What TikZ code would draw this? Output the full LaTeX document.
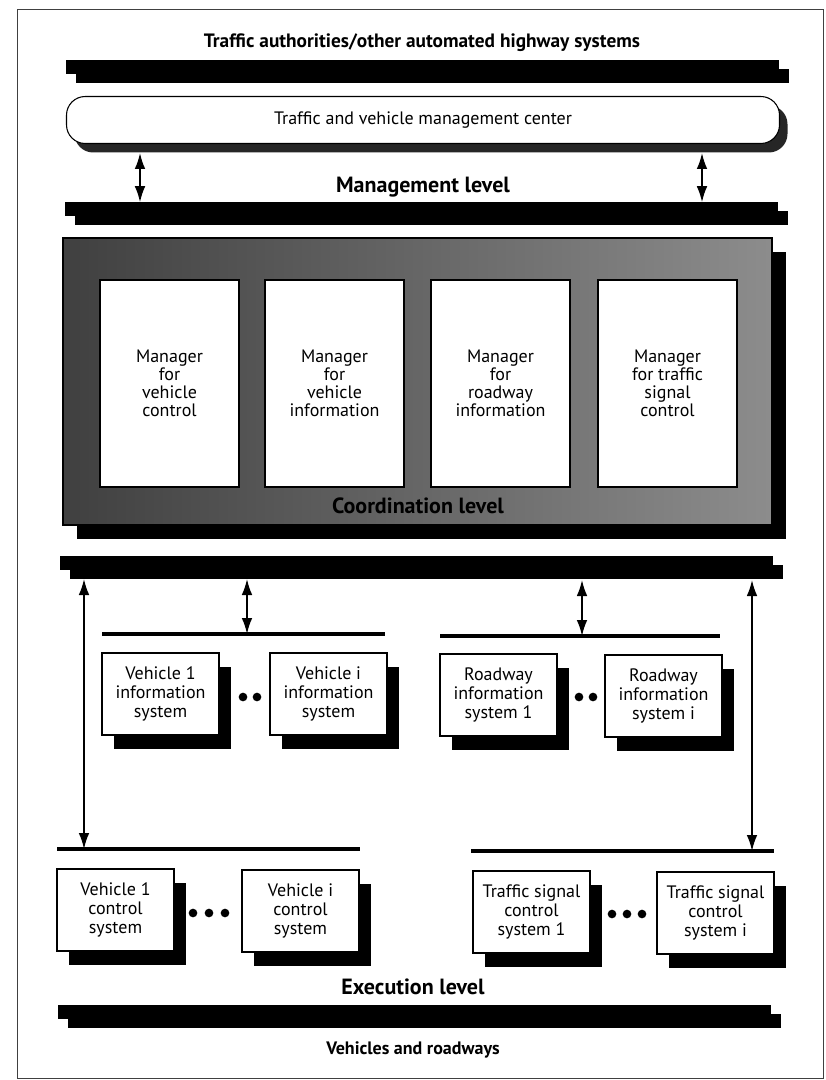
\documentclass[tikz,border=0pt]{standalone}
\usepackage{fontspec}
\setmainfont{PT Sans}
\usetikzlibrary{shadows,arrows.meta,positioning}

\tikzset{
  bar/.style={fill=black, draw=none, inner sep=0pt,
    minimum width=534.75pt, minimum height=10.5pt,
    drop shadow={shadow xshift=7.5pt, shadow yshift=-6.75pt, fill=black, opacity=1}},
  centerbox/.style={draw=black, thick, fill=white, rounded corners=14pt,
    minimum width=534.75pt, minimum height=35.25pt,
    drop shadow={shadow xshift=6pt, shadow yshift=-6.75pt, fill=black!85, opacity=1}},
  coordbox/.style={draw=black, thick, left color=black!75, right color=black!45,
    minimum width=531.75pt, minimum height=215.25pt,
    drop shadow={shadow xshift=10.5pt, shadow yshift=-10.5pt, fill=black, opacity=1}},
  manager/.style={draw=black, thick, fill=white,
    minimum width=104.25pt, minimum height=155.25pt},
  sysbox/.style={draw=black, thick, fill=white, inner sep=1pt,
    minimum width=87.75pt, minimum height=61.5pt,
    drop shadow={shadow xshift=9pt, shadow yshift=-10.5pt, fill=black, opacity=1}},
  level/.style={font=\fontsize{16.5}{18}\selectfont\bfseries},
  dot/.style={circle, fill=black, inner sep=0pt, minimum size=6.5pt},
  bus/.style={line width=3pt},
  link/.style={{Latex[length=12pt,width=8pt]}-{Latex[length=12pt,width=8pt]}, line width=1.3pt}
}

\begin{document}
\begin{tikzpicture}[x=0.75pt,y=-0.75pt,
    every node/.style={font=\fontsize{13.5}{14}\selectfont, align=center}]
  \useasboundingbox (0,0) rectangle (825,1080);
  \draw[line width=0.6pt, black!75] (17,9) rectangle (823,1078);

  % management level
  \node[font=\fontsize{14.5}{16}\selectfont\bfseries] (authorities) at (422,43) {Traffic authorities/other automated highway systems};
  \node[bar] (bus1) at (422,67) {};
  \node[centerbox] (tvmc) at (423,120) {Traffic and vehicle management center};
  \node[level] (mlevel) at (423,187) {Management level};
  \node[bar] (bus2) at (421.5,209.5) {};
  \coordinate (m1) at (140,153);
  \coordinate (m2) at (702,153);
  \draw[link] (m1) -- (m1 |- bus2.north);
  \draw[link] (m2) -- (m2 |- bus2.north);

  % coordination level
  \node[coordbox] (coord) at (417.5,381.5) {};
  \begin{scope}[every node/.style={manager, font=\fontsize{13.5}{13.5}\selectfont, align=center}]
    \node (mvc) at (169.5,383.5) {Manager\\for\\vehicle\\control};
    \node (mvi) at (334.5,383.5) {Manager\\for\\vehicle\\information};
    \node (mri) at (500.5,383.5) {Manager\\for\\roadway\\information};
    \node (mtsc) at (667.5,383.5) {Manager\\for traffic\\signal\\control};
  \end{scope}
  \node[level] (clevel) at (418,506) {Coordination level};

  % execution level
  \node[bar] (bus3) at (416.5,563) {};
  \draw[bus] (102,634) coordinate (vibusl) -- (385,634) coordinate (vibusr);
  \draw[bus] (440,636) coordinate (ribusl) -- (720,636) coordinate (ribusr);
  \draw[bus] (57,849) coordinate (vcbusl) -- (360,849) coordinate (vcbusr);
  \draw[bus] (471,851) coordinate (tcbusl) -- (774,851) coordinate (tcbusr);

  \coordinate (e1) at (84,579);
  \coordinate (e2) at (247,579);
  \coordinate (e3) at (582,580);
  \coordinate (e4) at (752,580);
  \draw[link] (e1) -- (e1 |- vcbusl);
  \draw[link] (e2) -- (e2 |- vibusl);
  \draw[link] (e3) -- (e3 |- ribusl);
  \draw[link] (e4) -- (e4 |- tcbusl);

  \node[dot] (vid1) at (243,697) {};
  \node[dot] (vid2) at (257,697) {};
  \node[dot] (rid1) at (579,697) {};
  \node[dot] (rid2) at (593,697) {};
  \node[dot] (vcd1) at (193,913) {};
  \node[dot] (vcd2) at (209,913) {};
  \node[dot] (vcd3) at (225,913) {};
  \node[dot] (tcd1) at (612,914) {};
  \node[dot] (tcd2) at (627,914) {};
  \node[dot] (tcd3) at (642,914) {};

  \begin{scope}[every node/.style={sysbox, font=\fontsize{13.5}{14.25}\selectfont, align=center}]
    \node (v1info) at (160.5,694) {Vehicle 1\\information\\system};
    \node (viinfo) at (328.5,694) {Vehicle i\\information\\system};
    \node (r1info) at (498.5,695) {Roadway\\information\\system 1};
    \node (riinfo) at (663.5,696) {Roadway\\information\\system i};
    \node (v1ctrl) at (115.5,910) {Vehicle 1\\control\\system};
    \node (victrl) at (300.5,911) {Vehicle i\\control\\system};
    \node (t1ctrl) at (531.5,912) {Traffic signal\\control\\system 1};
    \node (tictrl) at (715.5,913) {Traffic signal\\control\\system i};
  \end{scope}

  \node[level] (elevel) at (413,987) {Execution level};
  \node[bar] (bus4) at (414,1011.5) {};
  \node[font=\fontsize{13.5}{15}\selectfont\bfseries] (roads) at (413,1050) {Vehicles and roadways};
\end{tikzpicture}
\end{document}
